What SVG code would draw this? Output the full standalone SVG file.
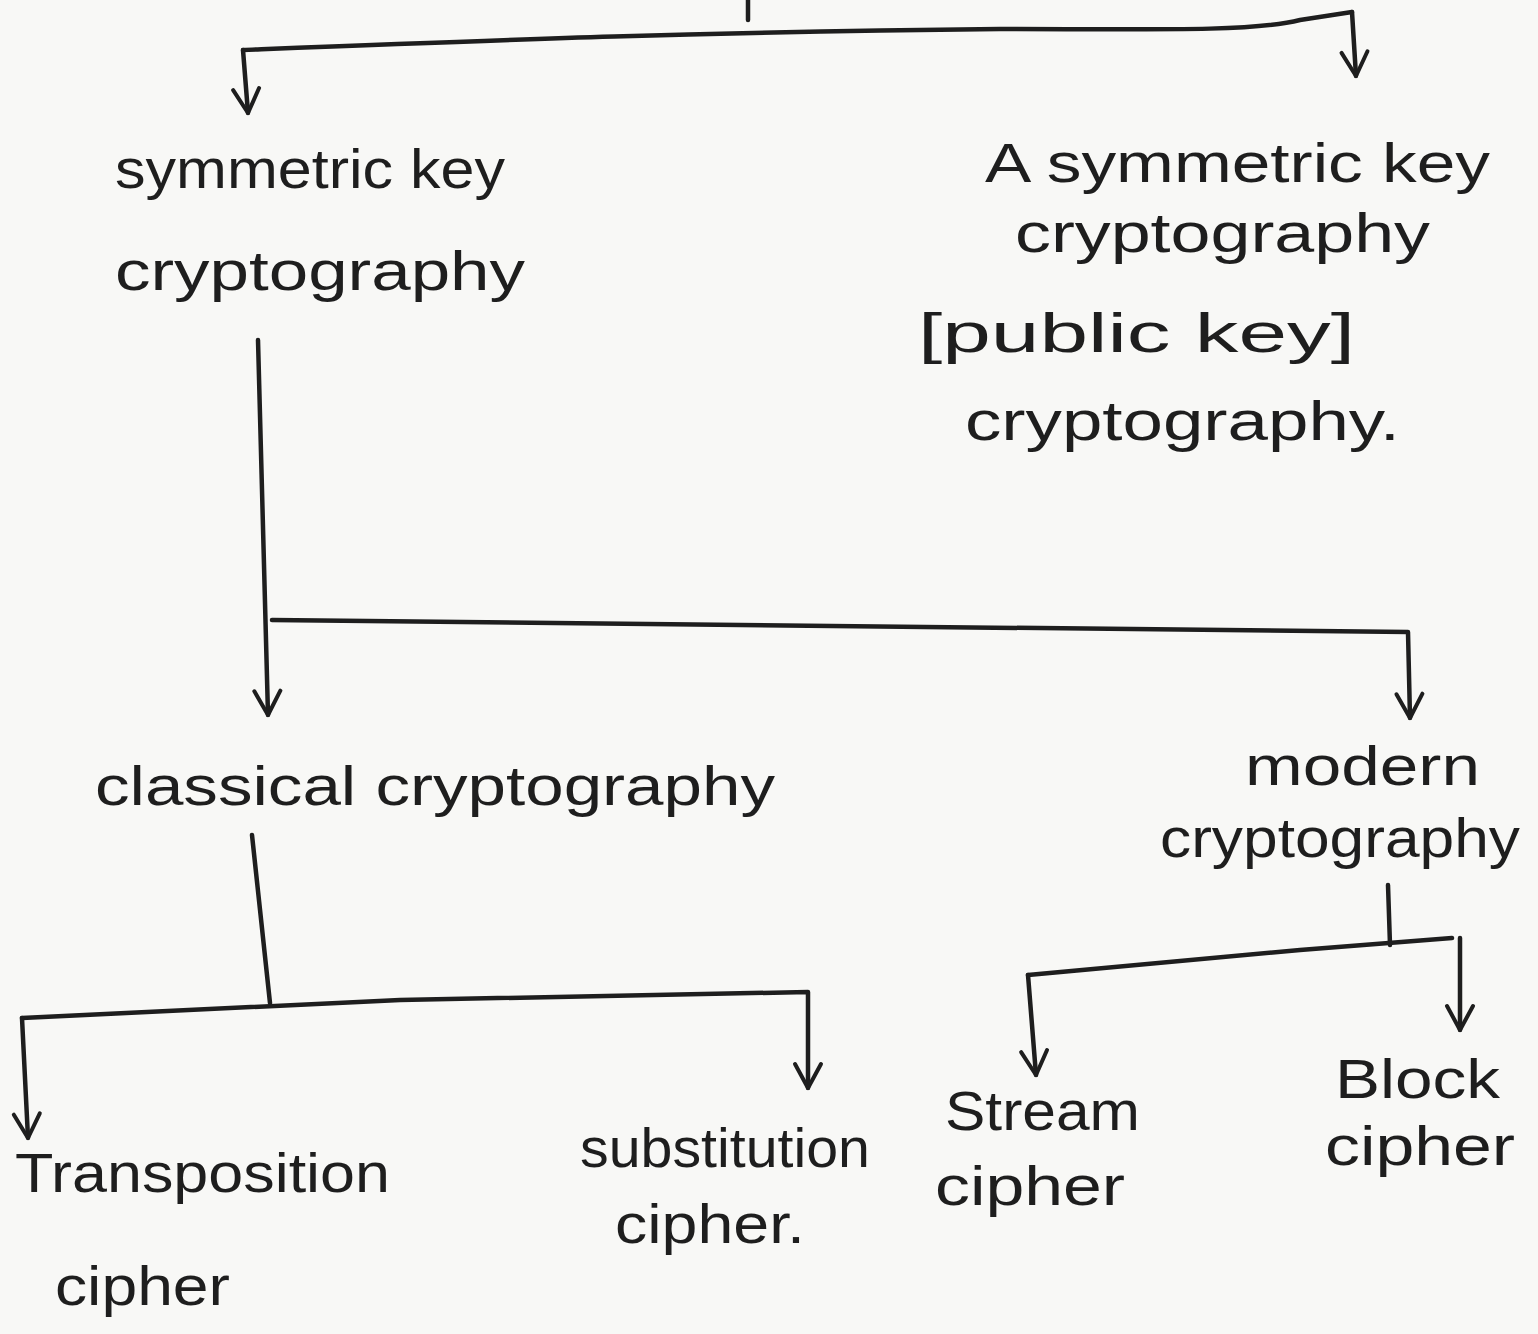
<svg xmlns="http://www.w3.org/2000/svg" width="1538" height="1334" viewBox="0 0 1538 1334">
<defs>
<style>
.bg{fill:#f8f8f6}
.ln{fill:none;stroke:#1e1e1e;stroke-width:4.5;stroke-linecap:round;stroke-linejoin:round}
.ar{fill:none;stroke:#1e1e1e;stroke-width:4;stroke-linecap:round;stroke-linejoin:round}
.t{font-family:"Liberation Sans","DejaVu Sans",sans-serif;font-size:56px;fill:#1e1e1e}
</style>
<marker id="v" markerUnits="userSpaceOnUse" markerWidth="40" markerHeight="40" viewBox="-30 -20 40 40" refX="0" refY="0" orient="auto" overflow="visible">
<path class="ar" d="M-24,-13 L0,0 L-24,13"/>
</marker>
</defs>
<rect class="bg" x="0" y="0" width="1538" height="1334"/>
<g id="connectors">
<path class="ln" d="M748,0 L748,20"/>
<path class="ln" d="M243,50 C500,40 700,32 1000,29 C1200,30 1260,30 1300,20 L1352,12"/>
<path class="ln" d="M243,50 L248,113" marker-end="url(#v)"/>
<path class="ln" d="M1352,12 L1356,76" marker-end="url(#v)"/>
<path class="ln" d="M258,340 L268,715" marker-end="url(#v)"/>
<path class="ln" d="M272,620 L1408,632 L1410,718" marker-end="url(#v)"/>
<path class="ln" d="M252,835 L270,1003"/>
<path class="ln" d="M22,1018 L400,1000 L808,992 L808,1088" marker-end="url(#v)"/>
<path class="ln" d="M22,1018 L28,1138" marker-end="url(#v)"/>
<path class="ln" d="M1388,885 L1390,945"/>
<path class="ln" d="M1028,975 L1300,950 L1452,938"/>
<path class="ln" d="M1028,975 L1036,1075" marker-end="url(#v)"/>
<path class="ln" d="M1460,938 L1460,1030" marker-end="url(#v)"/>
</g>
<g id="symmetric">
<text class="t" x="115" y="188" textLength="390" lengthAdjust="spacingAndGlyphs">symmetric key</text>
<text class="t" x="115" y="290" textLength="410" lengthAdjust="spacingAndGlyphs">cryptography</text>
</g>
<g id="asymmetric">
<text class="t" x="985" y="182" textLength="505" lengthAdjust="spacingAndGlyphs">A symmetric key</text>
<text class="t" x="1015" y="252" textLength="415" lengthAdjust="spacingAndGlyphs">cryptography</text>
<text class="t" x="918" y="352" textLength="437" lengthAdjust="spacingAndGlyphs">[public key]</text>
<text class="t" x="965" y="440" textLength="435" lengthAdjust="spacingAndGlyphs">cryptography.</text>
</g>
<g id="classical">
<text class="t" x="95" y="805" textLength="680" lengthAdjust="spacingAndGlyphs">classical cryptography</text>
</g>
<g id="modern">
<text class="t" x="1245" y="785" textLength="235" lengthAdjust="spacingAndGlyphs">modern</text>
<text class="t" x="1160" y="857" textLength="360" lengthAdjust="spacingAndGlyphs">cryptography</text>
</g>
<g id="transposition">
<text class="t" x="15" y="1192" textLength="375" lengthAdjust="spacingAndGlyphs">Transposition</text>
<text class="t" x="55" y="1305" textLength="175" lengthAdjust="spacingAndGlyphs">cipher</text>
</g>
<g id="substitution">
<text class="t" x="580" y="1167" textLength="290" lengthAdjust="spacingAndGlyphs">substitution</text>
<text class="t" x="615" y="1243" textLength="190" lengthAdjust="spacingAndGlyphs">cipher.</text>
</g>
<g id="stream">
<text class="t" x="945" y="1130" textLength="195" lengthAdjust="spacingAndGlyphs">Stream</text>
<text class="t" x="935" y="1205" textLength="190" lengthAdjust="spacingAndGlyphs">cipher</text>
</g>
<g id="block">
<text class="t" x="1335" y="1098" textLength="165" lengthAdjust="spacingAndGlyphs">Block</text>
<text class="t" x="1325" y="1165" textLength="190" lengthAdjust="spacingAndGlyphs">cipher</text>
</g>
</svg>
